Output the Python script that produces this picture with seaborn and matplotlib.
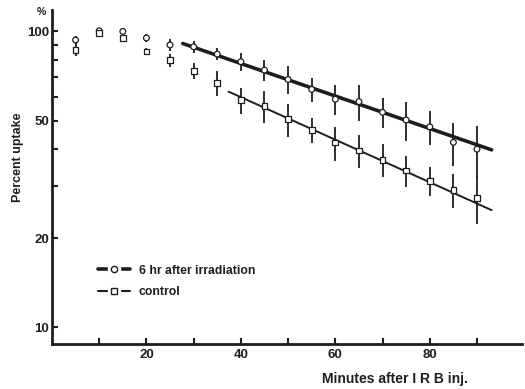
import numpy as np
import pandas as pd
import seaborn as sns
import matplotlib.pyplot as plt
from matplotlib.lines import Line2D
from matplotlib.legend_handler import HandlerTuple
from matplotlib.ticker import FixedLocator, FixedFormatter, NullLocator

# minutes after IRB injection
minutes = [5, 10, 15, 20, 25, 30, 35, 40, 45, 50, 55, 60, 65, 70, 75, 80, 85, 90]

# 6 hr after irradiation (circles)
irr_pct = [93.5, 100.5, 100, 95, 90, 88.7, 83.8, 79, 74, 68.8, 63.7, 59, 57.9, 53.3, 50.2, 47.6, 42.2, 40]
irr_err = [3, 1, 2, 3, 4, 4, 3.9, 5.3, 5.8, 7.5, 6, 7, 8, 6.3, 7.6, 6.3, 7, 8]

# control (squares)
ctl_pct = [86.5, 98.5, 95, 85.5, 80, 73.5, 67, 58.6, 56, 50.5, 46.5, 42.1, 39.6, 36.8, 33.9, 31.3, 29.1, 27.4]
ctl_err = [4, 1, 2.6, 2.5, 4, 4.5, 6.5, 6, 7, 6.5, 4.5, 5.6, 5, 4.7, 4, 3.6, 3.8, 5]

# fitted regression lines
irr_fit_x = [27.7, 93.1]
irr_fit_y = [91, 39.8]
ctl_fit_x = [37.4, 93.1]
ctl_fit_y = [62.6, 24.9]

ytick_vals = [10, 20, 30, 40, 50, 60, 70, 80, 90, 100]
ytick_text = ['10', '20', '', '', '50', '', '', '', '', '100']
xtick_vals = [10, 20, 30, 40, 50, 60, 70, 80, 90]
xtick_text = ['', '20', '', '40', '', '60', '', '80', '']

sns.set_style("white")
plt.rcParams['font.family'] = ['Liberation Sans', 'DejaVu Sans']
plt.rcParams['font.weight'] = 'bold'

ink = '#1e1e1e'

df = pd.DataFrame({'minutes': minutes * 2,
                   'pct': irr_pct + ctl_pct,
                   'group': ['irr'] * len(minutes) + ['ctl'] * len(minutes)})

fig = plt.figure(figsize=(5.25, 3.89), dpi=100)
ax = fig.add_axes([0.099, 0.116, 0.895, 0.858])
ax.set_yscale('log')

# fit lines
sns.lineplot(x=irr_fit_x, y=irr_fit_y, ax=ax, color=ink, lw=2.6, zorder=2)
sns.lineplot(x=ctl_fit_x, y=ctl_fit_y, ax=ax, color=ink, lw=1.4, zorder=2)

# error bars
ax.errorbar(minutes, irr_pct, yerr=irr_err, fmt='none', ecolor=ink, elinewidth=1.3, capsize=0, zorder=2)
ax.errorbar(minutes, ctl_pct, yerr=ctl_err, fmt='none', ecolor=ink, elinewidth=1.3, capsize=0, zorder=2)

# markers
sns.scatterplot(data=df, x='minutes', y='pct', style='group',
                markers={'irr': 'o', 'ctl': 's'}, s=17, facecolor='white',
                edgecolor=ink, linewidth=0.9, legend=False, ax=ax, zorder=3)

ax.set_xlim(0, 99.5)
ax.set_ylim(8.8, 118)

ax.yaxis.set_major_locator(FixedLocator(ytick_vals))
ax.yaxis.set_major_formatter(FixedFormatter(ytick_text))
ax.yaxis.set_minor_locator(NullLocator())
ax.xaxis.set_major_locator(FixedLocator(xtick_vals))
ax.xaxis.set_major_formatter(FixedFormatter(xtick_text))
ax.tick_params(axis='both', direction='in', length=4.5, width=1.5, color=ink,
               labelsize=9.5, labelcolor=ink, pad=2, left=True, bottom=True)
ax.tick_params(axis='x', pad=4)
for lab in ax.get_xticklabels() + ax.get_yticklabels():
    lab.set_fontweight('bold')

for side in ['top', 'right']:
    ax.spines[side].set_visible(False)
for side in ['left', 'bottom']:
    ax.spines[side].set_linewidth(2)
    ax.spines[side].set_color(ink)

ax.set_xlabel('Minutes after I R B inj.', fontsize=10, fontweight='bold', color=ink)
ax.xaxis.set_label_coords(0.73, -0.085)
ax.set_ylabel('Percent uptake', fontsize=9, fontweight='bold', color=ink)
ax.yaxis.set_label_coords(-0.06, 0.56)
ax.text(-0.022, 0.995, '%', transform=ax.transAxes, fontsize=7.5, fontweight='bold',
        color=ink, ha='center', va='center')

# legend: line with a gap around the marker
def handle(marker, lw):
    line = Line2D([], [], color=ink, lw=lw)
    gap = Line2D([], [], marker='s', ms=9, mfc='white', mec='white', ls='none')
    mk = Line2D([], [], marker=marker, ms=4.5, mfc='white', mec=ink, mew=1.0, ls='none')
    return (line, gap, mk)

leg = ax.legend([handle('o', 2.6), handle('s', 1.5)],
                ['6 hr after irradiation', 'control'],
                handler_map={tuple: HandlerTuple(ndivide=1)},
                loc='upper left', bbox_to_anchor=(0.075, 0.27), frameon=False,
                handlelength=2.6, handletextpad=0.7, labelspacing=0.75,
                prop={'weight': 'bold', 'size': 8.8})
for t in leg.get_texts():
    t.set_color(ink)

fig.savefig('out.png', dpi=100)
